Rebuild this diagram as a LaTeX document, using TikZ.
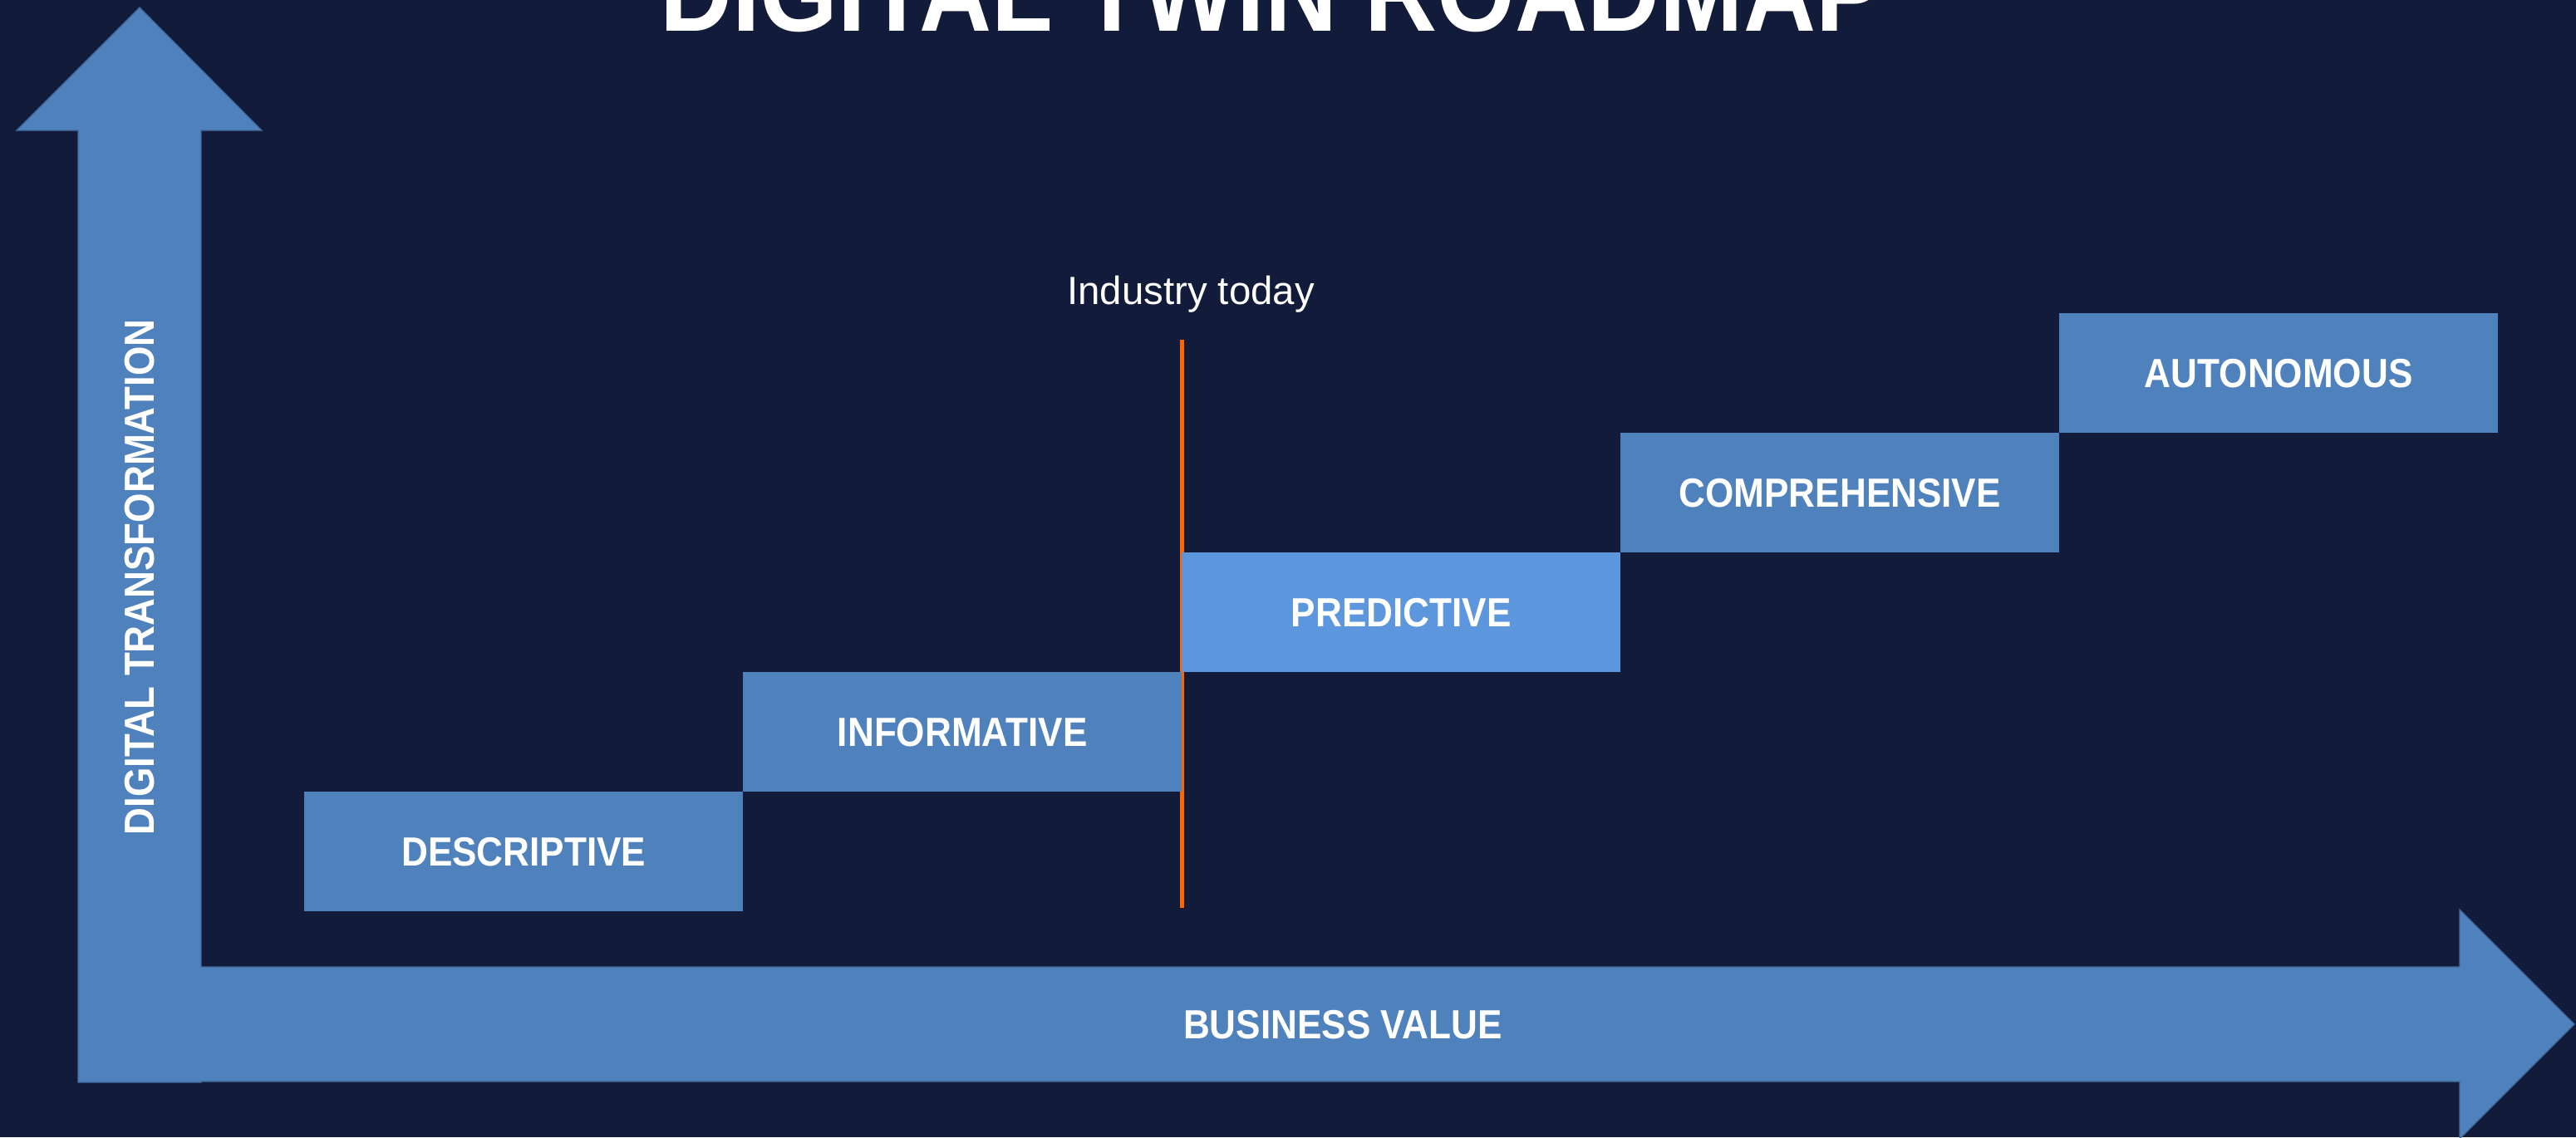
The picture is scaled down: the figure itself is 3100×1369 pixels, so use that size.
\documentclass[tikz,border=0pt]{standalone}
\usepackage{fontspec}
\setmainfont{Liberation Sans}
\newfontfamily\condf{Liberation Sans}[FakeStretch=0.9]
\definecolor{bgnavy}{HTML}{121B3A}
\definecolor{axisblue}{HTML}{4F81BD}
\definecolor{edgeblue}{HTML}{42699C}
\definecolor{predblue}{HTML}{5C96DD}
\definecolor{todayorange}{HTML}{FF6600}
\tikzset{
  stage/.style={fill=axisblue, draw=none, minimum width=528pt, minimum height=144pt,
    inner sep=0pt, anchor=north west, text=white,
    font=\condf\bfseries\fontsize{49}{49}\selectfont, text height=35pt, text depth=0pt},
  axislabel/.style={text=white, inner sep=0pt,
    font=\condf\bfseries\fontsize{49}{49}\selectfont, text height=35pt, text depth=0pt},
}
\begin{document}
\begin{tikzpicture}[x=1pt,y=-1pt]
\useasboundingbox (0,0) rectangle (3100,1369);
\fill[bgnavy] (0,0) rectangle (3100,1369);
% axes (one combined shape)
\filldraw[fill=axisblue, draw=edgeblue, line width=1.2pt, line join=miter]
  (94,1303) -- (94,157) -- (20,157) -- (168,9) -- (315,157) -- (242,157)
  -- (242,1164) -- (2960,1164) -- (2960,1095) -- (3098,1233) -- (2960,1371)
  -- (2960,1302) -- (242,1302) -- (242,1303) -- cycle;
% title (cut off at the top edge, as in the reference)
\node[anchor=base west, inner sep=0pt, text=white,
  font=\condf\bfseries\fontsize{134}{134}\selectfont] (title) at (794,37.7) {DIGITAL TWIN ROADMAP};
% axis labels
\node[axislabel, rotate=90, font=\condf\bfseries\fontsize{50.6}{50.6}\selectfont, text height=36pt] (ylab) at (167.5,695) {DIGITAL TRANSFORMATION};
\node[axislabel] (xlab) at (1616,1232.5) {BUSINESS VALUE};
% industry today marker
\node[anchor=base, inner sep=0pt, text=white, font=\fontsize{47.4}{47.4}\selectfont] (today) at (1433,366) {Industry today};
\coordinate (ltop) at (1422,409);
\coordinate (lbot) at (1422,1093);
\draw[todayorange, line width=5pt] (ltop) -- (lbot);
% stages
\node[stage] (desc) at (366,953) {DESCRIPTIVE};
\node[stage] (info) at (894,809) {INFORMATIVE};
\node[stage, fill=predblue] (pred) at (1422,665) {PREDICTIVE};
\node[stage] (comp) at (1950,521) {COMPREHENSIVE};
\node[stage] (auto) at (2478,377) {AUTONOMOUS};
\end{tikzpicture}
\end{document}
